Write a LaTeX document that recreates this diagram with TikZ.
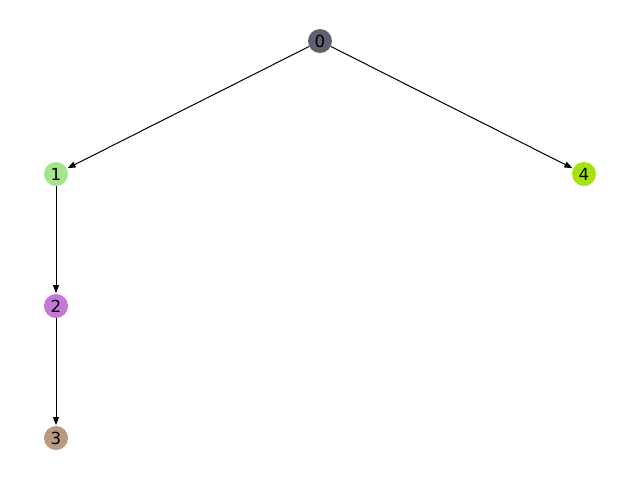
\documentclass[tikz,border=0pt]{standalone}
\usepackage{fontspec}
\setmainfont{DejaVu Sans}
\usetikzlibrary{arrows.meta}
\definecolor{c0}{HTML}{5E6170}
\definecolor{c1}{HTML}{A6E68A}
\definecolor{c2}{HTML}{C777DA}
\definecolor{c3}{HTML}{B99A80}
\definecolor{c4}{HTML}{A6E211}
\tikzset{
  vtx/.style={circle, inner sep=0pt, minimum size=18pt, font=\fontsize{12.5}{12.5}\selectfont},
  edge/.style={-{Triangle[length=6pt,width=4.5pt]}, line width=0.75pt, shorten >=0.5pt}
}
\begin{document}
\begin{tikzpicture}[x=0.75pt,y=-0.75pt]
\useasboundingbox (0,0) rectangle (640,480);
\node[vtx, fill=c0] (n0) at (320,41) {0};
\node[vtx, fill=c1] (n1) at (56,174) {1};
\node[vtx, fill=c4] (n4) at (584,174) {4};
\node[vtx, fill=c2] (n2) at (56,306) {2};
\node[vtx, fill=c3] (n3) at (56,438) {3};
\draw[edge] (n0) -- (n1);
\draw[edge] (n0) -- (n4);
\draw[edge] (n1) -- (n2);
\draw[edge] (n2) -- (n3);
\end{tikzpicture}
\end{document}
